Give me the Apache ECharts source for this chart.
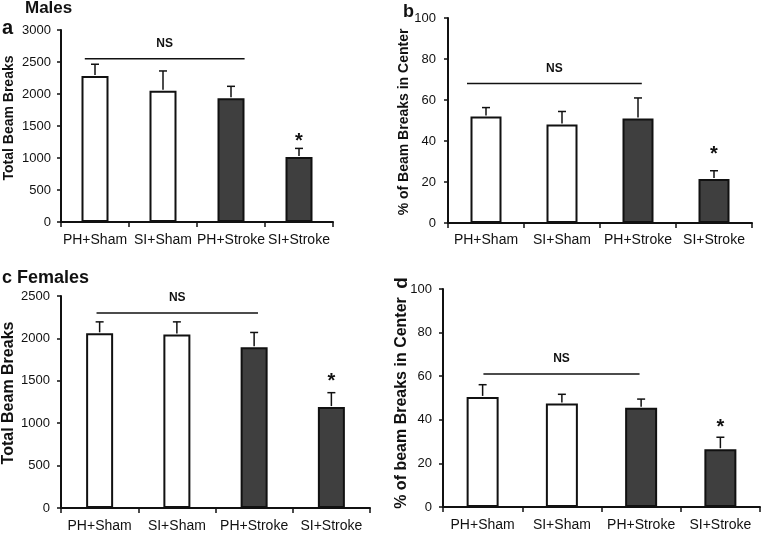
<!DOCTYPE html>
<html>
<head>
<meta charset="utf-8">
<script src="https://cdn.jsdelivr.net/npm/echarts@6/dist/echarts.min.js"></script>
<style>
html,body{margin:0;padding:0;background:#fff;}
#chart{width:761px;height:533px;}
</style>
</head>
<body>
<div id="chart"></div>
<script>
// ---- data ----
const categories = ['PH+Sham', 'SI+Sham', 'PH+Stroke', 'SI+Stroke'];

const malesTotal      = [2280, 2050, 1935, 1015];
const malesTotalErr   = [185, 310, 185, 135];
const malesCenter     = [52, 48, 51, 21.5];
const malesCenterErr  = [4.3, 6.4, 10, 4];

const femalesTotal     = [2060, 2045, 1895, 1190];
const femalesTotalErr  = [135, 150, 175, 170];
const femalesCenter    = [50.5, 47.5, 45.5, 26.5];
const femalesCenterErr = [5.6, 4.2, 4, 5.5];

const significant = [false, false, false, true];

const totalTicksMales   = {max: 3000, interval: 500};
const totalTicksFemales = {max: 2500, interval: 500};
const percentTicks      = {max: 100, interval: 20};

// NS bracket levels (in axis units)
const nsLevels = [2550, 68, 2300, 61];

// ---- layout / style ----
const FONT = "'Liberation Sans', Arial, sans-serif";
const INK = '#111';
const DARK = '#3f3f3f';
const fills = ['#ffffff', '#ffffff', DARK, DARK];

const panels = [
  {grid: {left: 61, top: 30, width: 272, height: 192}, vals: malesTotal, errs: malesTotalErr, ticks: totalTicksMales,
   barWidth: 27, labelMargin: 10, xMargin: 11, ns: {from: -0.15, to: 2.2}, starOff: 10},
  {grid: {left: 448, top: 18, width: 304, height: 205}, vals: malesCenter, errs: malesCenterErr, ticks: percentTicks,
   barWidth: 31, labelMargin: 12, xMargin: 10, ns: {from: -0.25, to: 2.05}, starOff: 19},
  {grid: {left: 61, top: 296, width: 309, height: 215}, vals: femalesTotal, errs: femalesTotalErr, ticks: totalTicksFemales,
   barWidth: 27, labelMargin: 11, xMargin: 11, ns: {from: -0.04, to: 2.05}, starOff: 14},
  {grid: {left: 443, top: 289, width: 317, height: 218}, vals: femalesCenter, errs: femalesCenterErr, ticks: percentTicks,
   barWidth: 32, labelMargin: 11, xMargin: 11, ns: {from: 0.01, to: 1.98}, starOff: 13}
];

const grid = [], xAxis = [], yAxis = [], series = [];

panels.forEach((p, i) => {
  grid.push(Object.assign({containLabel: false}, p.grid));
  xAxis.push({
    type: 'category', gridIndex: i, data: categories, boundaryGap: true,
    axisLine: {show: true, lineStyle: {color: INK, width: 2}},
    axisTick: {show: true, length: 5, lineStyle: {color: INK, width: 1.5}},
    axisLabel: {interval: 0, color: INK, fontSize: 14, fontFamily: FONT, margin: p.xMargin},
    splitLine: {show: false}
  });
  yAxis.push({
    type: 'value', gridIndex: i, min: 0, max: p.ticks.max, interval: p.ticks.interval,
    axisLine: {show: true, lineStyle: {color: INK, width: 2}},
    axisTick: {show: true, length: 4, lineStyle: {color: INK, width: 1.5}},
    axisLabel: {color: INK, fontSize: 13, fontFamily: FONT, margin: p.labelMargin, formatter: v => String(v)},
    splitLine: {show: false}
  });
  series.push({
    type: 'bar', xAxisIndex: i, yAxisIndex: i, barWidth: p.barWidth,
    data: p.vals.map((v, k) => ({value: v, itemStyle: {color: fills[k]}})),
    itemStyle: {borderColor: INK, borderWidth: 2},
    animation: false, silent: true
  });
  // error bars + asterisks
  series.push({
    type: 'custom', xAxisIndex: i, yAxisIndex: i, z: 5, animation: false, silent: true,
    data: p.vals.map((v, k) => [k, v, p.errs[k], significant[k] ? 1 : 0]),
    renderItem: (params, api) => {
      const x = api.value(0), m = api.value(1), e = api.value(2), s = api.value(3);
      const p0 = api.coord([x, m]);
      const p1 = api.coord([x, m + e]);
      const children = [
        {type: 'line', shape: {x1: p0[0], y1: p0[1] - 1, x2: p1[0], y2: p1[1]}, style: {stroke: INK, lineWidth: 1.5}},
        {type: 'line', shape: {x1: p1[0] - 4, y1: p1[1], x2: p1[0] + 4, y2: p1[1]}, style: {stroke: INK, lineWidth: 1.5}}
      ];
      if (s) {
        children.push({type: 'text', style: {text: '*', x: p1[0], y: p1[1] - p.starOff + 3,
          align: 'center', verticalAlign: 'middle', font: 'bold 20px ' + FONT, fill: INK}});
      }
      return {type: 'group', children};
    }
  });
  // NS bracket
  series.push({
    type: 'custom', xAxisIndex: i, yAxisIndex: i, z: 5, animation: false, silent: true,
    data: [[0, nsLevels[i]]],
    renderItem: (params, api) => {
      const y = api.value(1);
      const c0 = api.coord([0, y]);
      const bw = api.size([1, 0])[0];
      const xa = c0[0] + p.ns.from * bw;
      const xb = c0[0] + p.ns.to * bw;
      return {type: 'group', children: [
        {type: 'line', shape: {x1: xa, y1: c0[1], x2: xb, y2: c0[1]}, style: {stroke: INK, lineWidth: 1.5}},
        {type: 'text', style: {text: 'NS', x: (xa + xb) / 2, y: c0[1] - 15, align: 'center', verticalAlign: 'middle',
          font: 'bold 12px ' + FONT, fill: INK}}
      ]};
    }
  });
});

function rotText(text, x, y, size) {
  return {type: 'text', x: x, y: y, rotation: Math.PI / 2,
    style: {text: text, align: 'center', verticalAlign: 'middle', font: 'bold ' + size + 'px ' + FONT, fill: INK}};
}
function plainText(text, x, y, size, align) {
  return {type: 'text', x: x, y: y,
    style: {text: text, align: align || 'left', verticalAlign: 'middle', font: 'bold ' + size + 'px ' + FONT, fill: INK}};
}

const graphic = [
  plainText('Males', 25, 8, 17),
  plainText('a', 2, 28, 20),
  plainText('b', 403, 12, 18),
  plainText('c Females', 2, 278, 18),
  rotText('d', 402, 283, 19),
  rotText('Total Beam Breaks', 9, 118, 14),
  rotText('% of Beam Breaks in Center', 404, 122, 14),
  rotText('Total Beam Breaks', 9, 393, 16),
  rotText('% of beam Breaks in Center', 402, 403, 16)
];

const chart = echarts.init(document.getElementById('chart'), null, {renderer: 'canvas'});
chart.setOption({
  animation: false,
  backgroundColor: '#ffffff',
  textStyle: {fontFamily: FONT},
  grid, xAxis, yAxis, series, graphic
});
</script>
</body>
</html>
